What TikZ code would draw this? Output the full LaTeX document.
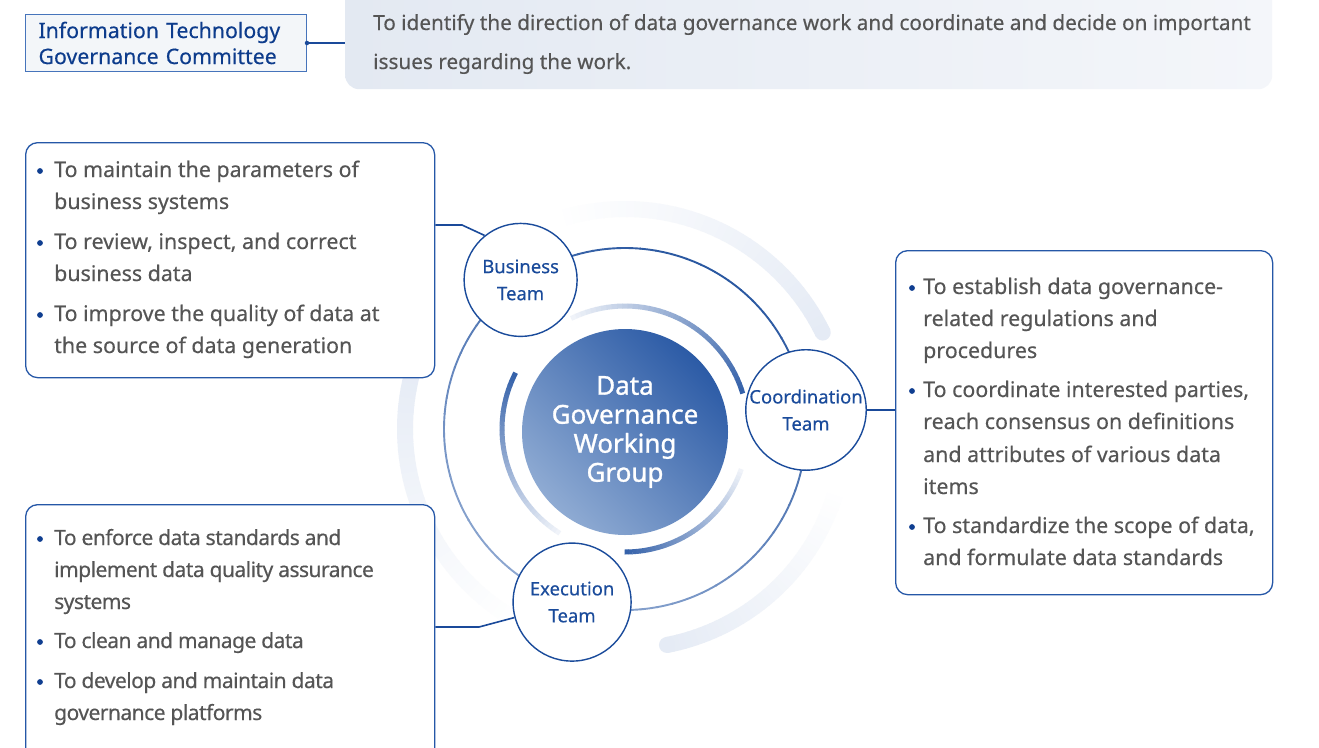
\documentclass[tikz,border=0pt]{standalone}
\usepackage{fontspec}
\setmainfont{Noto Sans}
\newfontfamily\medfont[FakeBold=0.35]{Noto Sans}
\newfontfamily\semifont[FakeBold=1.1]{Noto Sans}
\usetikzlibrary{calc}
\definecolor{boxblue}{HTML}{2557A7}
\definecolor{titleblue}{HTML}{0D3C8C}
\definecolor{teamblue}{HTML}{1A4B9B}
\definecolor{bodygrey}{HTML}{555555}
\definecolor{bulletblue}{HTML}{0F3E90}
\definecolor{connblue}{HTML}{1A4A9A}
\definecolor{ringdark}{HTML}{2A58A1}
\definecolor{ringlight}{HTML}{8CA6D0}
\definecolor{innerdark}{HTML}{3360A9}
\definecolor{innerlight}{HTML}{F2F5FA}
\definecolor{outerfaint}{HTML}{E5EBF5}
\definecolor{greyL}{HTML}{E3E9F2}
\definecolor{greyR}{HTML}{F4F6FA}
\definecolor{titlefill}{HTML}{F3F6F9}
\definecolor{titleborder}{HTML}{4674BB}
\definecolor{cdark}{HTML}{2C5BA6}
\definecolor{clight}{HTML}{8FABD3}
% #1 centre, #2 radius (pt), #3 start angle, #4 end angle, #5 width, #6 start colour, #7 end colour
\newcommand\gradarc[7]{%
  \foreach \k in {0,...,39}{%
    \pgfmathsetmacro\aa{#3+(#4-#3)*\k/40}%
    \pgfmathsetmacro\bb{#3+(#4-#3)*(\k+1.1)/40}%
    \pgfmathsetmacro\pp{100*(\k+0.5)/40}%
    \draw[line width=#5, color=#7!\pp!#6] ($(#1)+(\aa:#2pt)$) arc[start angle=\aa, end angle=\bb, radius=#2pt];
  }}
\begin{document}
\begin{tikzpicture}[x=1pt,y=-1pt,
  bodytxt/.style={anchor=base west, inner sep=0pt, text=bodygrey, font=\medfont\fontsize{21.4pt}{32pt}\selectfont},
  condtxt/.style={bodytxt, font=\medfont\fontsize{21pt}{32pt}\selectfont\addfontfeature{LetterSpace=-2.5}},
  bul/.style={circle, fill=bulletblue, inner sep=0pt, minimum size=5.8pt},
  listbox/.style={draw=boxblue, line width=1.3pt, rounded corners=12pt, fill=white, anchor=north west, inner sep=0pt},
  team/.style={circle, draw=teamblue, line width=1.4pt, fill=white, inner sep=0pt, text=teamblue, align=center, font=\medfont\fontsize{18.5pt}{27pt}\selectfont},
  conn/.style={draw=connblue, line width=1.6pt},
]
\useasboundingbox (0,0) rectangle (1319,747);
\clip (0,0) rectangle (1319,747);
\fill[white] (0,0) rectangle (1319,747);

% ---- top row
\node[anchor=north west, minimum width=927pt, minimum height=110pt, rounded corners=14pt, inner sep=0pt,
      left color=greyL, right color=greyR] (gb) at (345,-21) {};
\node[anchor=base west, inner sep=0pt, text=bodygrey, font=\medfont\fontsize{20.75pt}{32pt}\selectfont] (gt1) at (373,30)
  {To identify the direction of data governance work and coordinate and decide on important};
\node[anchor=base west, inner sep=0pt, text=bodygrey, font=\medfont\fontsize{20.75pt}{32pt}\selectfont] (gt2) at (373,69)
  {issues regarding the work.};
\node[anchor=north west, draw=titleborder, line width=1pt, fill=titlefill, text width=255pt, inner xsep=13pt,
      inner ysep=0pt, minimum height=57pt, align=left, text=titleblue, font=\medfont\fontsize{21.3pt}{26pt}\selectfont] (itgc) at (25,14)
  {Information Technology\\Governance Committee};
\draw[conn] (itgc.east) -- (itgc.east -| gb.west);
\node[circle, fill=connblue, inner sep=0pt, minimum size=4.5pt] (itgcdot) at (itgc.east) {};

% ---- centre graphics
\coordinate (c) at (625,429);
% outer faint arcs
\gradarc{c}{220}{108}{26}{16pt}{white}{outerfaint}
\gradarc{c}{220}{240}{162}{16pt}{white}{outerfaint}
\gradarc{c}{220}{-16}{-79}{16pt}{white}{outerfaint}
\fill[outerfaint] ($(c)+(26:220pt)$) circle[radius=8pt];
\fill[outerfaint] ($(c)+(162:220pt)$) circle[radius=8pt];
\fill[outerfaint] ($(c)+(-79:220pt)$) circle[radius=8pt];

% main ring
\foreach \k in {0,...,71}{%
  \pgfmathsetmacro\aa{5*\k}%
  \pgfmathsetmacro\bb{5*\k+5.3}%
  \pgfmathsetmacro\pp{50*(1+cos(5*\k+2.5-60))}%
  \draw[line width=1.9pt, color=ringdark!\pp!ringlight] ($(c)+(\aa:181pt)$) arc[start angle=\aa, end angle=\bb, radius=181pt];
}

% inner arcs
\gradarc{c}{123}{116}{17}{5pt}{innerlight}{innerdark}
\gradarc{c}{123}{238}{153}{5pt}{innerlight}{innerdark}
\gradarc{c}{123}{-19}{-90}{5pt}{innerlight}{innerdark}

% centre circle
\node[circle, minimum size=206pt, inner sep=0pt, top color=cdark, bottom color=clight, shading angle=-45,
      text=white, align=center, font=\semifont\fontsize{26pt}{29pt}\selectfont] (dgwg) at (625,432)
  {Data\\Governance\\Working\\Group};

% team circles
\node[team, minimum size=113pt] (biz) at ($(c)+(125:182pt)$) {Business\\Team};
\node[team, minimum size=118pt] (coord) at ($(c)+(6:182pt)$) {Coordination\\Team};
\node[team, minimum size=118pt] (exe) at ($(c)+(253:181pt)$) {Execution\\Team};

% ---- boxes
\node[listbox, minimum width=409pt, minimum height=235pt] (tl) at (25,142) {};
\node[listbox, minimum width=409pt, minimum height=270pt] (bl) at (25,504) {};
\node[listbox, minimum width=377pt, minimum height=344pt] (rb) at (895,250) {};

% connectors
\coordinate (bj) at (462,225);
\draw[conn] (tl.east |- bj) -- (bj) -- (biz.129);
\coordinate (ej) at (479,627);
\draw[conn] (bl.east |- ej) -- (ej) -- (exe.195);
\draw[conn] (coord.east) -- (coord.east -| rb.west);

% top-left text
\node[bul] (b1) at (40,171) {};
\node[bodytxt] (t1) at (54,177) {To maintain the parameters of};
\node[bodytxt] (t2) at (54,209) {business systems};
\node[bul] (b2) at (40,243) {};
\node[bodytxt] (t3) at (54,249) {To review, inspect, and correct};
\node[bodytxt] (t4) at (54,281) {business data};
\node[bul] (b3) at (40,315) {};
\node[bodytxt] (t5) at (54,321) {To improve the quality of data at};
\node[bodytxt] (t6) at (54,353) {the source of data generation};

% right text
\node[bul] (r1) at (912,288) {};
\node[bodytxt] (u1) at (923,294) {To establish data governance-};
\node[bodytxt] (u2) at (923,326) {related regulations and};
\node[bodytxt] (u3) at (923,358) {procedures};
\node[bul] (r2) at (912,391) {};
\node[bodytxt] (u4) at (923,397) {To coordinate interested parties,};
\node[bodytxt] (u5) at (923,429) {reach consensus on definitions};
\node[bodytxt] (u6) at (923,462) {and attributes of various data};
\node[bodytxt] (u7) at (923,494) {items};
\node[bul] (r3) at (912,527) {};
\node[bodytxt] (u8) at (923,533) {To standardize the scope of data,};
\node[bodytxt] (u9) at (923,565) {and formulate data standards};

% bottom-left text
\node[bul] (e1) at (40,539) {};
\node[condtxt] (v1) at (54,545) {To enforce data standards and};
\node[condtxt] (v2) at (54,577) {implement data quality assurance};
\node[condtxt] (v3) at (54,609) {systems};
\node[bul] (e2) at (40,642) {};
\node[condtxt] (v4) at (54,648) {To clean and manage data};
\node[bul] (e3) at (40,682) {};
\node[condtxt] (v5) at (54,688) {To develop and maintain data};
\node[condtxt] (v6) at (54,720) {governance platforms};
\end{tikzpicture}
\end{document}
